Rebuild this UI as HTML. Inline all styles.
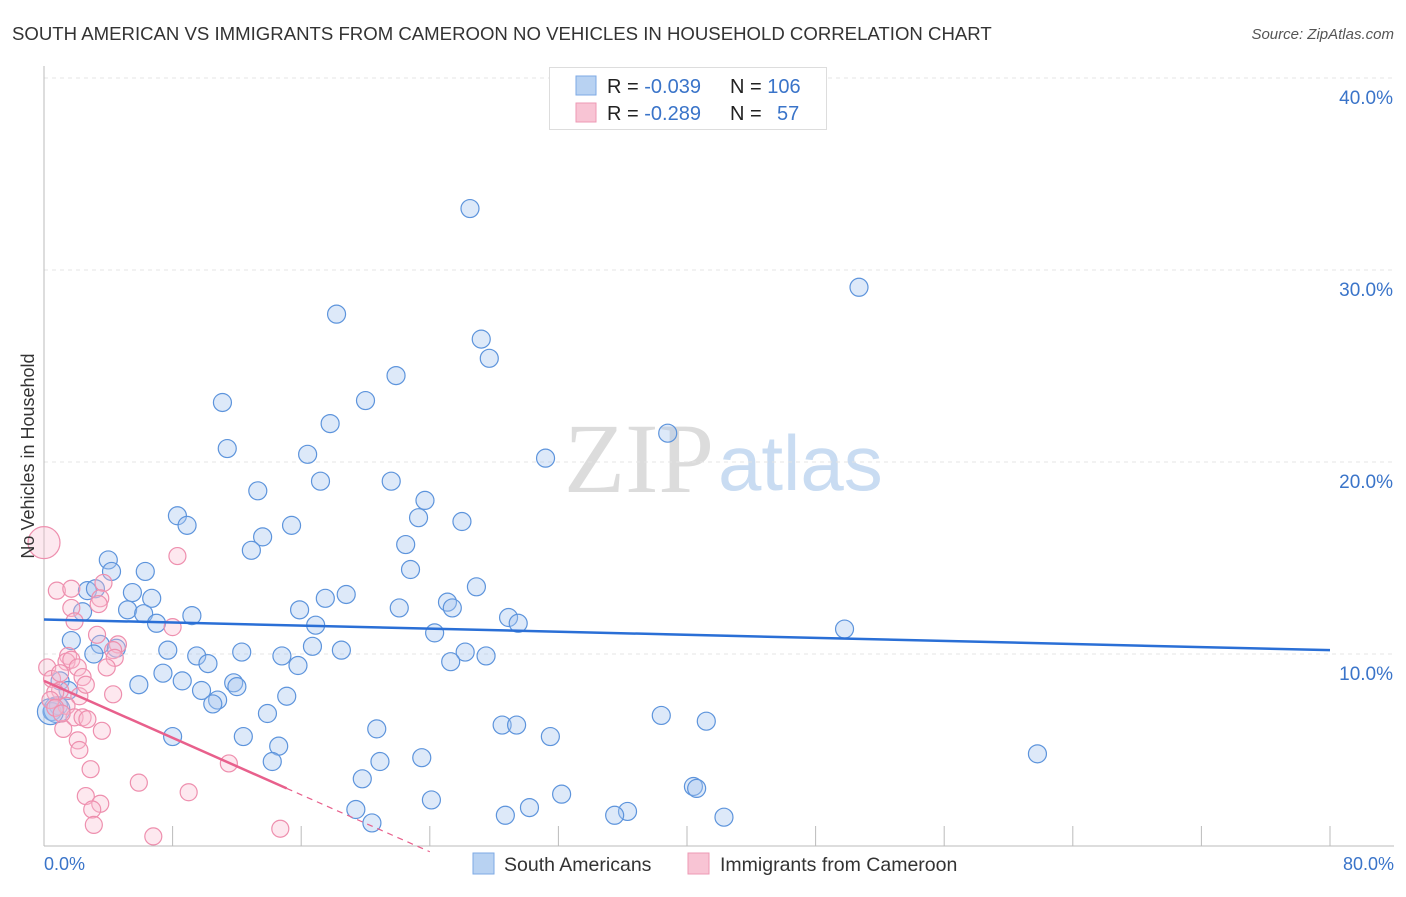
<!DOCTYPE html>
<html><head><meta charset="utf-8">
<style>
body{margin:0;background:#fff;font-family:"Liberation Sans",sans-serif;}
svg text{font-family:"Liberation Sans",sans-serif;}
svg text.serif{font-family:"Liberation Serif",serif;}
</style></head>
<body>
<svg id="chart" width="1406" height="892" xmlns="http://www.w3.org/2000/svg">
<text x="12" y="40" font-size="18.6" fill="#333">SOUTH AMERICAN VS IMMIGRANTS FROM CAMEROON NO VEHICLES IN HOUSEHOLD CORRELATION CHART</text>
<text x="1394" y="39" font-size="15" fill="#555" text-anchor="end" font-style="italic">Source: ZipAtlas.com</text>
<text class="serif" x="714" y="492" font-size="100" fill="#dcdcdc" text-anchor="end">ZIP</text>
<text x="718" y="490" font-size="78" fill="#c9dcf2">atlas</text>
<g id="grid"></g>
<g id="axes"></g>
<g id="pts"></g>
<g id="trend"></g>
<text transform="translate(34,456) rotate(-90)" font-size="18" fill="#333" text-anchor="middle">No Vehicles in Household</text>
<text x="44" y="870" font-size="18" fill="#3a74c9">0.0%</text>
<text x="1394" y="870" font-size="18" fill="#3a74c9" text-anchor="end">80.0%</text>
<g>
<rect x="549.5" y="67.5" width="277" height="62" fill="#fff" stroke="#ddd"/>
<rect x="576" y="76" width="20" height="19" fill="#b8d2f2" stroke="#7eaae4"/>
<rect x="576" y="103" width="20" height="19" fill="#f8c4d4" stroke="#ee9ab4"/>
<text x="607" y="93" font-size="20" fill="#222">R = <tspan fill="#3a74c9">-0.039</tspan></text>
<text x="730" y="93" font-size="20" fill="#222">N = <tspan fill="#3a74c9">106</tspan></text>
<text x="607" y="120" font-size="20" fill="#222">R = <tspan fill="#3a74c9"> -0.289</tspan></text>
<text x="730" y="120" font-size="20" fill="#222">N = <tspan fill="#3a74c9" x="777">57</tspan></text>
</g>
<g>
<rect x="473" y="853" width="21" height="21" fill="#b8d2f2" stroke="#7eaae4"/>
<text x="504" y="871" font-size="19.5" fill="#333">South Americans</text>
<rect x="688" y="853" width="21" height="21" fill="#f8c4d4" stroke="#ee9ab4"/>
<text x="720" y="871" font-size="19.5" fill="#333">Immigrants from Cameroon</text>
</g>
</svg>
<script>
const yTicks=[10,20,30,40];
const yTickLabels=["10.0%","20.0%","30.0%","40.0%"];
const xTicks=[0,8,16,24,32,40,48,56,64,72,80];
const blueX=[26.5,50.7,18.2,27.2,27.7,21.9,20.0,11.1,17.8,38.8,11.4,16.4,31.2,17.2,21.6,13.3,23.7,8.3,23.3,26.0,8.9,15.4,13.6,22.5,12.9,4.0,4.2,6.3,22.8,2.7,3.2,26.9,18.8,17.5,5.5,6.7,2.4,25.1,25.4,22.1,15.9,5.2,6.2,9.2,28.9,7.0,29.5,16.9,49.8,24.3,1.7,3.5,4.5,16.7,3.1,7.7,12.3,18.5,26.2,9.5,14.8,27.5,25.3,10.2,15.8,7.4,8.6,5.9,11.8,12.0,9.8,1.0,1.5,15.1,10.8,10.5,0.9,0.5,13.9,38.4,41.2,28.5,29.4,20.7,8.0,12.4,31.5,14.6,61.8,23.5,14.2,20.9,19.8,40.4,40.6,32.2,24.1,30.2,19.4,36.3,35.5,28.7,42.3,20.4,0.8,0.4];
const blueY=[33.2,29.1,27.7,26.4,25.4,24.5,23.2,23.1,22.0,21.5,20.7,20.4,20.2,19.0,19.0,18.5,18.0,17.2,17.1,16.9,16.7,16.7,16.1,15.7,15.4,14.9,14.3,14.3,14.4,13.3,13.4,13.5,13.1,12.9,13.2,12.9,12.2,12.7,12.4,12.4,12.3,12.3,12.1,12.0,11.9,11.6,11.6,11.5,11.3,11.1,10.7,10.5,10.3,10.4,10.0,10.2,10.1,10.2,10.1,9.9,9.9,9.9,9.6,9.5,9.4,9.0,8.6,8.4,8.5,8.3,8.1,8.6,8.1,7.8,7.6,7.4,7.3,7.0,6.9,6.8,6.5,6.3,6.3,6.1,5.7,5.7,5.7,5.2,4.8,4.6,4.4,4.4,3.5,3.1,3.0,2.7,2.4,2.0,1.9,1.8,1.6,1.6,1.5,1.2,7.1,7.0];
const pinkX=[0,8.3,3.7,0.8,1.7,3.5,3.4,1.7,8.0,3.3,1.9,4.6,4.3,4.4,1.5,0.2,1.4,1.7,3.9,0.5,2.1,1.0,2.4,4.3,2.2,1.4,1.9,2.4,2.7,3.6,1.2,2.1,2.2,11.5,2.9,5.9,9.0,2.6,3.5,3.0,3.1,6.8,14.7,0.7,0.4,0.7,1.1,2.6,1.0];
const pinkY=[15.8,15.1,13.7,13.3,13.4,12.9,12.6,12.4,11.4,11.0,11.7,10.5,10.2,9.8,9.9,9.3,9.6,9.7,9.3,8.7,9.3,8.1,8.8,7.9,7.8,7.3,6.7,6.7,6.6,6.0,6.1,5.5,5.0,4.3,4.0,3.3,2.8,2.6,2.2,1.9,1.1,0.5,0.9,8.0,7.6,7.2,6.9,8.4,9.0];
const blueTrend=[11.8,10.2];
const pinkTrend=[8.6,-0.3];

const X=v=>44+v*16.075, Y=v=>846-v*19.2;
const NS="http://www.w3.org/2000/svg";
function mk(tag,attrs,parent){const e=document.createElementNS(NS,tag);for(const k in attrs)e.setAttribute(k,attrs[k]);document.getElementById(parent).appendChild(e);return e;}
yTicks.forEach((t,i)=>{
 const l=mk('line',{x1:44,x2:1394,y1:Y(t),y2:Y(t),stroke:'#e4e4e4','stroke-dasharray':'4,4'},'grid');
 
 
 const tx=mk('text',{x:1393,y:Y(t)+26,'font-size':19,fill:'#3a74c9','text-anchor':'end'},'grid');
 tx.textContent=yTickLabels[i];
 
 
});
const ya=mk('line',{x1:44,x2:44,y1:66,y2:846,stroke:'#bbb'},'axes');


const xa=mk('line',{x1:44,x2:1394,y1:846,y2:846,stroke:'#bbb'},'axes');


xTicks.forEach(t=>{
 const l=mk('line',{x1:X(t),x2:X(t),y1:826,y2:846,stroke:'#bbb'},'axes');
 
 
});
blueX.forEach((x,i)=>{
 const r=(i>=blueX.length-2)?13:9;
 const c=mk('circle',{cx:X(x),cy:Y(blueY[i]),r:r,fill:'rgba(165,198,240,0.38)',stroke:'#5d94dc','stroke-width':1.2},'pts');
 
 
});
pinkX.forEach((x,i)=>{
 const r=i===0?16:8.5;
 const c=mk('circle',{cx:X(x),cy:Y(pinkY[i]),r:r,fill:'rgba(248,190,208,0.35)',stroke:'#ee8fae','stroke-width':1.2},'pts');
 
 
});
const bt=mk('line',{x1:X(0),y1:Y(blueTrend[0]),x2:X(80),y2:Y(blueTrend[1]),stroke:'#2a6fd6','stroke-width':2.5},'trend');


const py=x=>pinkTrend[0]+(pinkTrend[1]-pinkTrend[0])*x/24;
const pt=mk('line',{x1:X(0),y1:Y(py(0)),x2:X(15.1),y2:Y(py(15.1)),stroke:'#e8608c','stroke-width':2.5},'trend');


const pd=mk('line',{x1:X(15.1),y1:Y(py(15.1)),x2:X(24),y2:Y(py(24)),stroke:'#e8608c','stroke-width':1.2,'stroke-dasharray':'6,5'},'trend');


</script>
</body></html>
